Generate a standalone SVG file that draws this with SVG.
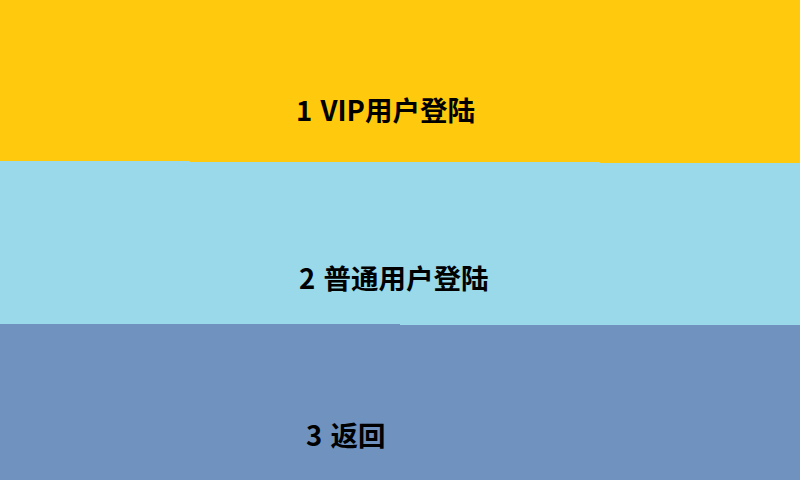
<svg xmlns="http://www.w3.org/2000/svg" width="800" height="480" viewBox="0 0 800 480">
<style>
.lbl{font-family:"Microsoft YaHei","Noto Sans CJK SC","Noto Sans",sans-serif;font-weight:bold;font-size:27.5px;word-spacing:2px;fill:#000}
</style>
<g id="band3">
<rect x="0" y="300" width="800" height="180" fill="#7092BE"/>
<text class="lbl" x="306" y="446">3 返回</text>
</g>
<g id="band2">
<polygon points="0,150 800,150 800,325 400,325 400,324 0,324" fill="#99D9EA"/>
<text class="lbl" x="299" y="289">2 普通用户登陆</text>
</g>
<g id="band1">
<polygon points="0,0 800,0 800,163 600,163 600,162 190,162 190,161 0,161" fill="#FFC90E"/>
<text class="lbl" x="296" y="121">1 VIP用户登陆</text>
</g>
<g id="connectors"/>
</svg>
